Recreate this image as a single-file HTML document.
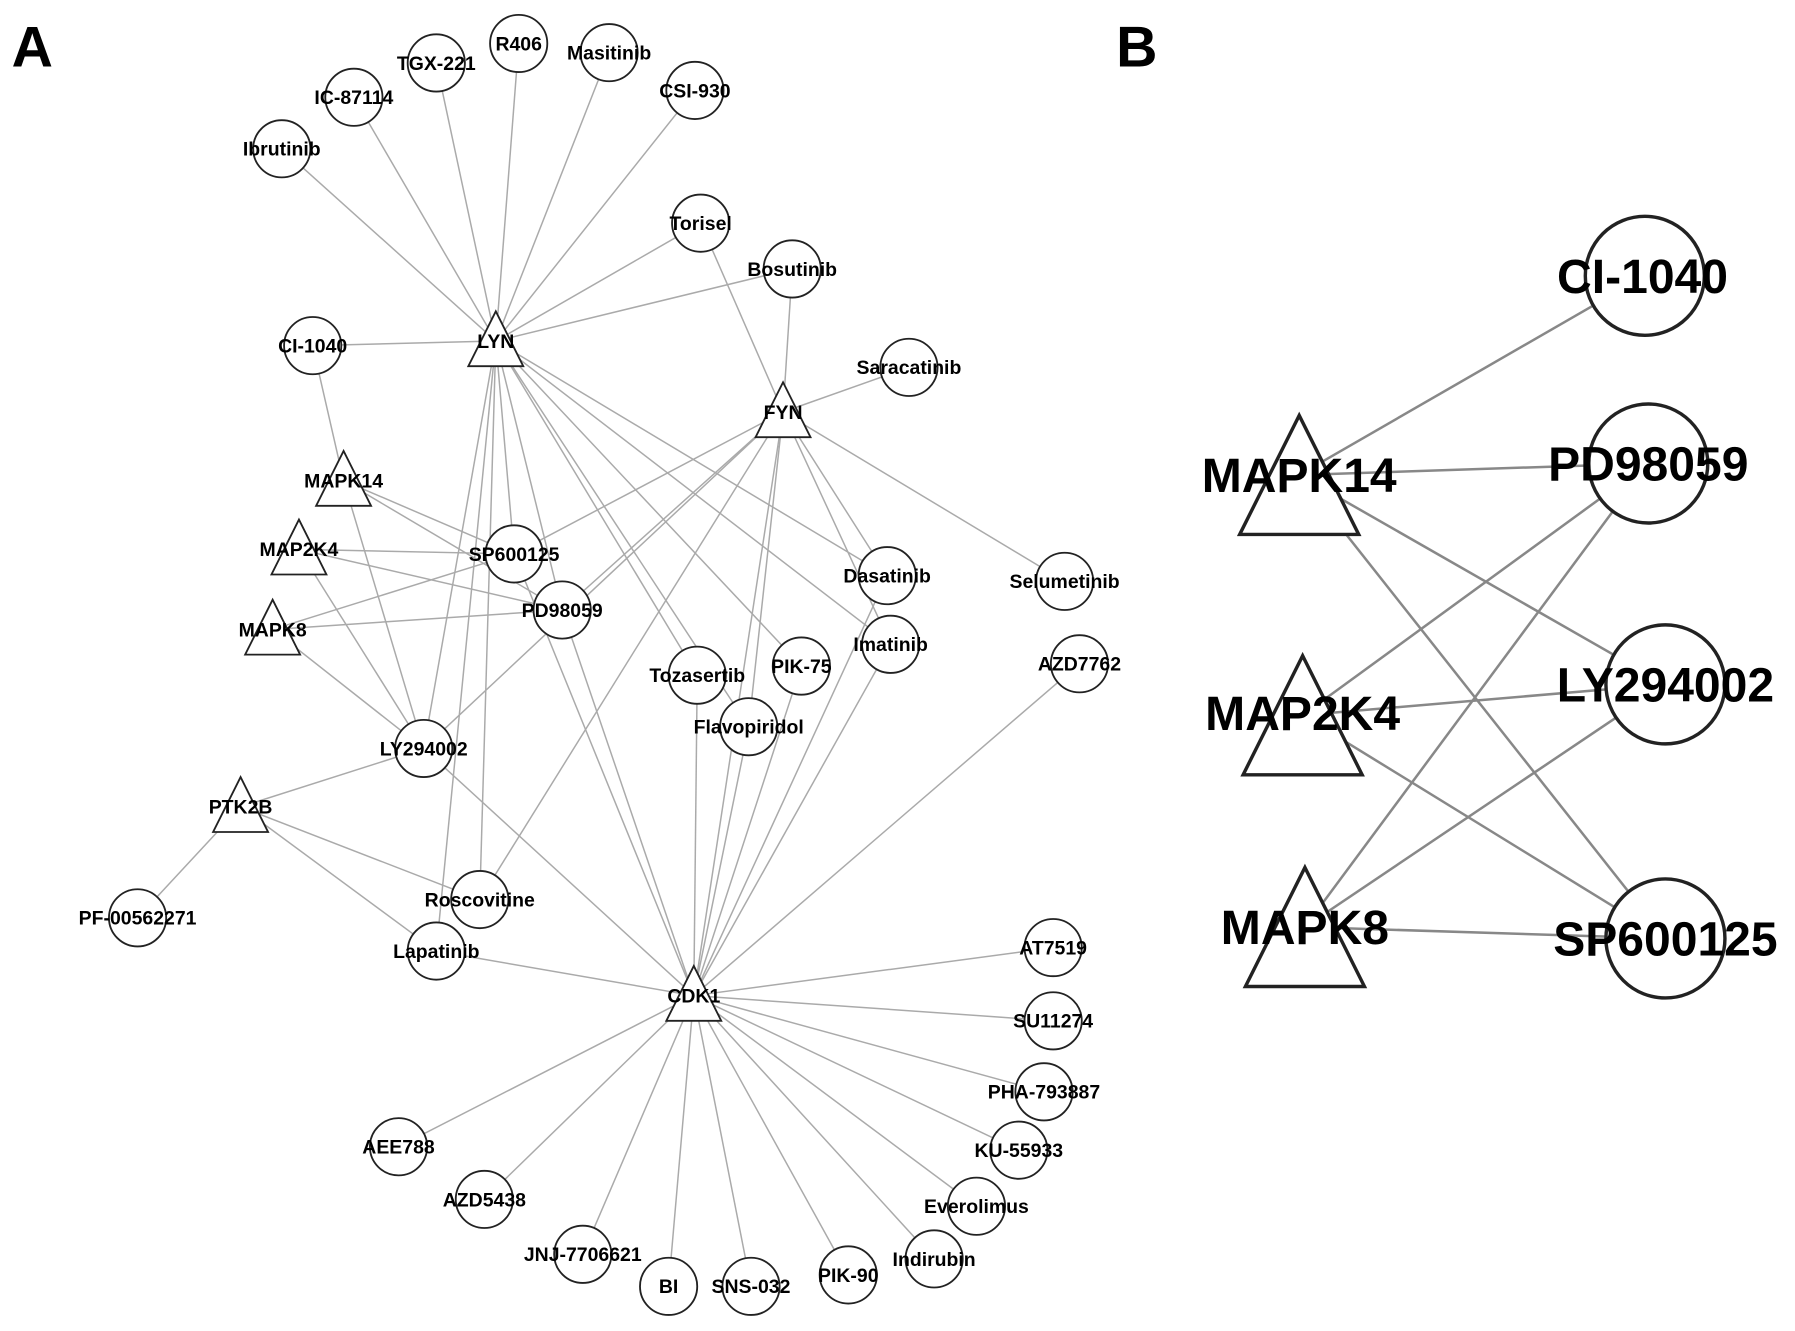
<!DOCTYPE html>
<html><head><meta charset="utf-8"><style>html,body{margin:0;padding:0;background:#fff}svg{display:block}</style></head><body>
<svg width="1795" height="1331" viewBox="0 0 1568 1163" xmlns="http://www.w3.org/2000/svg" font-family="Liberation Sans, Arial, sans-serif" font-weight="bold">
<defs>
<g id="t"><polygon points="0,-26 24,22 -24,22" fill="#fff" stroke="#222" stroke-width="1.6"/></g>
<g id="T"><polygon points="0,-52 52,52 -52,52" fill="#fff" stroke="#222" stroke-width="3"/></g>
</defs>
<text x="10" y="58" font-size="50">A</text>
<text x="975" y="58" font-size="50">B</text>
<g stroke="#aaa" stroke-width="1.3" id="edges"></g>
<g id="nodes"></g>
<g stroke="#888" stroke-width="2.2">
<line x1="1135" y1="415" x2="1437" y2="241"/><line x1="1135" y1="415" x2="1440" y2="405"/><line x1="1135" y1="415" x2="1455" y2="598"/><line x1="1135" y1="415" x2="1455" y2="820"/>
<line x1="1138" y1="625" x2="1440" y2="405"/><line x1="1138" y1="625" x2="1455" y2="598"/><line x1="1138" y1="625" x2="1455" y2="820"/>
<line x1="1140" y1="810" x2="1440" y2="405"/><line x1="1140" y1="810" x2="1455" y2="598"/><line x1="1140" y1="810" x2="1455" y2="820"/>
</g>
<g fill="#fff" stroke="#222" stroke-width="3">
<circle cx="1437" cy="241" r="52"/><circle cx="1440" cy="405" r="52"/><circle cx="1455" cy="598" r="52"/><circle cx="1455" cy="820" r="52"/>
</g>
<use href="#T" x="1135" y="415"/><use href="#T" x="1138" y="625"/><use href="#T" x="1140" y="810"/>
<g font-size="42" text-anchor="middle">
<text x="1435" y="256">CI-1040</text><text x="1440" y="420">PD98059</text><text x="1455" y="613">LY294002</text><text x="1455" y="835">SP600125</text>
<text x="1135" y="430">MAPK14</text><text x="1138" y="638">MAP2K4</text><text x="1140" y="825">MAPK8</text>
</g>
<script>
var N={Ibrutinib:[246,130],"IC-87114":[309,85],"TGX-221":[381,55],R406:[453,38],Masitinib:[532,46],"CSI-930":[607,79],Torisel:[612,195],Bosutinib:[692,235],"CI-1040":[273,302],Saracatinib:[794,321],SP600125:[449,484],PD98059:[491,533],Dasatinib:[775,503],Selumetinib:[930,508],Imatinib:[778,563],AZD7762:[943,580],Tozasertib:[609,590],"PIK-75":[700,582],Flavopiridol:[654,635],LY294002:[370,654],"PF-00562271":[120,802],Roscovitine:[419,786],Lapatinib:[381,831],AT7519:[920,828],SU11274:[920,892],"PHA-793887":[912,954],"KU-55933":[890,1005],Everolimus:[853,1054],Indirubin:[816,1100],"PIK-90":[741,1114],"SNS-032":[656,1124],BI:[584,1124],"JNJ-7706621":[509,1096],AZD5438:[423,1048],AEE788:[348,1002]};
var T={LYN:[433,298],FYN:[684,360],MAPK14:[300,420],MAP2K4:[261,480],MAPK8:[238,550],PTK2B:[210,705],CDK1:[606,870]};
var E={LYN:["Ibrutinib","IC-87114","TGX-221","R406","Masitinib","CSI-930","Torisel","Bosutinib","CI-1040","SP600125","PD98059","Dasatinib","Imatinib","Tozasertib","Flavopiridol","LY294002","Roscovitine","Lapatinib","PIK-75"],
FYN:["Bosutinib","Saracatinib","Torisel","Dasatinib","Imatinib","PD98059","SP600125","Roscovitine","Flavopiridol","Selumetinib","LY294002"],
CDK1:["AT7519","SU11274","PHA-793887","KU-55933","Everolimus","Indirubin","PIK-90","SNS-032","BI","JNJ-7706621","AZD5438","AEE788","PD98059","LY294002","Lapatinib","Tozasertib","PIK-75","Flavopiridol","Imatinib","Dasatinib","AZD7762","FYN","SP600125"],
MAPK14:["CI-1040","SP600125","PD98059","LY294002"],MAP2K4:["SP600125","PD98059","LY294002"],MAPK8:["SP600125","PD98059","LY294002"],PTK2B:["LY294002","PF-00562271","Lapatinib","Roscovitine"]};
var ns="http://www.w3.org/2000/svg",eg=document.getElementById("edges"),ng=document.getElementById("nodes");
function P(k){return N[k]||T[k];}
for(var s in E){E[s].forEach(function(d){var a=P(s),b=P(d),l=document.createElementNS(ns,"line");l.setAttribute("x1",a[0]);l.setAttribute("y1",a[1]);l.setAttribute("x2",b[0]);l.setAttribute("y2",b[1]);eg.appendChild(l);});}
function txt(x,y,s){var t=document.createElementNS(ns,"text");t.setAttribute("x",x);t.setAttribute("y",y);t.setAttribute("font-size","17");t.setAttribute("text-anchor","middle");t.textContent=s;ng.appendChild(t);}
for(var k in N){var c=document.createElementNS(ns,"circle");c.setAttribute("cx",N[k][0]);c.setAttribute("cy",N[k][1]);c.setAttribute("r",25);c.setAttribute("fill","#fff");c.setAttribute("stroke","#222");c.setAttribute("stroke-width","1.6");ng.appendChild(c);}
for(var k in T){var u=document.createElementNS(ns,"use");u.setAttribute("href","#t");u.setAttribute("x",T[k][0]);u.setAttribute("y",T[k][1]);ng.appendChild(u);}
for(var k in N)txt(N[k][0],N[k][1]+6,k);
for(var k in T)txt(T[k][0],T[k][1]+6,k);
</script>
</svg>
</body></html>
